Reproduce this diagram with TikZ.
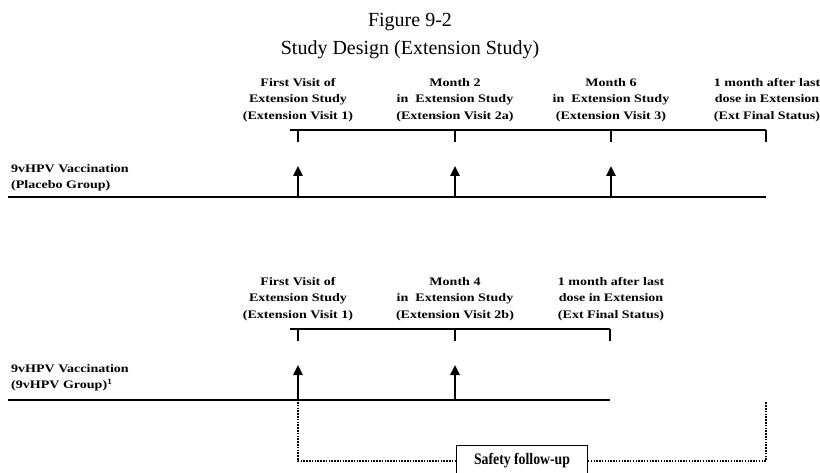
\documentclass[tikz,border=0pt]{standalone}
\usepackage{fontspec}
\setmainfont{Liberation Serif}
\newfontfamily\widebold[FakeStretch=1.22]{Liberation Serif Bold}
\newfontfamily\narrowbold[FakeStretch=0.86]{Liberation Serif Bold}
\usetikzlibrary{arrows.meta}

\tikzset{
  visit/.style={align=center, inner sep=0pt,
    font=\widebold\fontsize{11.5}{16.5}\selectfont},
  group/.style={align=left, anchor=west, inner sep=0pt,
    font=\widebold\fontsize{11.5}{16}\selectfont},
  headline/.style={anchor=base, inner sep=0pt,
    font=\fontsize{20}{24}\selectfont},
  timeline/.style={line width=2.4pt},
  bracket/.style={line width=1.8pt},
  tick/.style={line width=1.4pt},
  dose/.style={->, line width=2.4pt},
  follow/.style={line width=1.8pt, dash pattern=on 1.5pt off 1.3pt}
}

\begin{document}
\begin{tikzpicture}[x=1pt, y=-1pt, >={Triangle[length=10pt,width=9pt]}]
  \useasboundingbox (0,0) rectangle (820,473);

  % The title
  \node [headline] (title) at (410,27) {Figure 9-2};
  \node [headline] (subtitle) at (410,55) {Study Design (Extension Study)};

  % ---------- Placebo group ----------
  % The visit labels
  \node [visit] (v1) at (298,100) {First Visit of\\Extension Study\\(Extension Visit 1)};
  \node [visit] (v2) at (455,100) {Month 2\\in\ \ Extension Study\\(Extension Visit 2a)};
  \node [visit] (v3) at (611,100) {Month 6\\in\ \ Extension Study\\(Extension Visit 3)};
  \node [visit] (v4) at (767,100) {1 month after last\\dose in Extension\\(Ext Final Status)};
  % The group label
  \node [group] (ga) at (11,178) {9vHPV Vaccination\\(Placebo Group)};

  % The bracket over the visits
  \coordinate (ba) at (290,130);
  \coordinate (bb) at (766,130);
  \draw [bracket] (ba) -- (bb);
  \foreach \x/\n in {298/1, 455/2, 611/3, 766/4} {
    \coordinate (ta\n) at (\x,130);
    \coordinate (tb\n) at (\x,142);
    \draw [tick] (ta\n) -- (tb\n);
  }

  % The time line
  \coordinate (la) at (8,197);
  \coordinate (lb) at (766,197);
  \draw [timeline] (la) -- (lb);

  % The doses
  \foreach \x/\n in {298/1, 455/2, 611/3} {
    \coordinate (da\n) at (\x,197);
    \coordinate (db\n) at (\x,166);
    \draw [dose] (da\n) -- (db\n);
  }

  % ---------- 9vHPV group ----------
  % The visit labels
  \node [visit] (w1) at (298,299) {First Visit of\\Extension Study\\(Extension Visit 1)};
  \node [visit] (w2) at (455,299) {Month 4\\in\ \ Extension Study\\(Extension Visit 2b)};
  \node [visit] (w3) at (611,299) {1 month after last\\dose in Extension\\(Ext Final Status)};
  % The group label
  \node [group] (gb) at (11,378) {9vHPV Vaccination\\(9vHPV Group)\textsuperscript{1}};

  % The bracket over the visits
  \coordinate (ca) at (290,329);
  \coordinate (cb) at (610,329);
  \draw [bracket] (ca) -- (cb);
  \foreach \x/\n in {298/1, 455/2, 610/3} {
    \coordinate (sa\n) at (\x,329);
    \coordinate (sb\n) at (\x,341);
    \draw [tick] (sa\n) -- (sb\n);
  }

  % The time line
  \coordinate (ma) at (8,400);
  \coordinate (mb) at (610,400);
  \draw [timeline] (ma) -- (mb);

  % The doses
  \foreach \x/\n in {298/1, 455/2} {
    \coordinate (ea\n) at (\x,400);
    \coordinate (eb\n) at (\x,365);
    \draw [dose] (ea\n) -- (eb\n);
  }

  % ---------- Safety follow-up ----------
  \node [draw, line width=0.8pt, fill=white, minimum width=131pt, minimum height=32pt,
    font=\narrowbold\fontsize{16}{18}\selectfont] (safe) at (522,461) {Safety follow-up};
  \coordinate (fa) at (298,402);
  \coordinate (fb) at (766,402);
  \draw [follow] (fa) |- (safe.west);
  \draw [follow] (safe.east) -| (fb);
\end{tikzpicture}
\end{document}
